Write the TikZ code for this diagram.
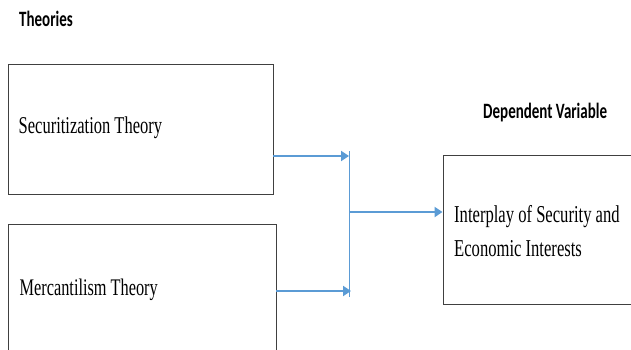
\documentclass[tikz,border=0pt]{standalone}
\usepackage{fontspec}
\usepackage{graphicx}
\setmainfont{Liberation Serif}
\newfontfamily\calfont{Carlito}
\usetikzlibrary{arrows.meta}
\definecolor{arrblue}{HTML}{5B9BD5}
\definecolor{boxline}{HTML}{404040}
\tikzset{
  boxshape/.style={draw=boxline, line width=0.9pt, rectangle, inner sep=0pt, fill=none},
  arr/.style={draw=arrblue, line width=2pt, -{Triangle[length=8pt,width=10pt]}},
  thinblue/.style={draw=arrblue, line width=0.9pt},
  headtext/.style={anchor=base west, inner sep=0pt, font=\calfont\bfseries\fontsize{15}{18}\selectfont},
  bodytext/.style={anchor=base west, inner sep=0pt, font=\fontsize{16.5}{23.3}\selectfont}
}
\begin{document}
\begin{tikzpicture}[x=1pt,y=-1pt]
\useasboundingbox (0,0) rectangle (631,349);
\clip (0,0) rectangle (631,349);
% boxes
\node[boxshape, minimum width=265pt, minimum height=130pt] (box1) at (140.5,129) {};
\node[boxshape, minimum width=268pt, minimum height=136pt] (box2) at (142,292) {};
\node[boxshape, minimum width=217pt, minimum height=149pt] (box3) at (551.5,229.5) {};
% texts
\node[headtext] (th) at (19,26.5) {\scalebox{1}[1.46]{Theories}};
\node[headtext] (dv) at (483,118) {\scalebox{1}[1.46]{Dependent Variable}};
\node[bodytext] (t1) at (18.5,133.5) {\scalebox{1}[1.46]{Securitization Theory}};
\node[bodytext, font=\fontsize{16.3}{23.3}\selectfont] (t2) at (19.5,295) {\scalebox{1}[1.46]{Mercantilism Theory}};
\node[bodytext, font=\fontsize{16.6}{23.3}\selectfont] (t3) at (454,222) {\scalebox{1}[1.46]{\begin{tabular}[t]{@{}l@{}}Interplay of Security and\\Economic Interests\end{tabular}}};
% connectors
\coordinate (a1) at (349,156);
\coordinate (a2) at (351,291);
\coordinate (j) at (349,212);
\coordinate (vtop) at (349,151);
\coordinate (vbot) at (349,297);
\draw[thinblue] (vtop) -- (vbot);
\draw[arr] (box1.east |- a1) -- (a1);
\draw[arr] (box2.east |- a2) -- (a2);
\draw[arr] (j) -- (box3.west |- j);
\end{tikzpicture}
\end{document}
